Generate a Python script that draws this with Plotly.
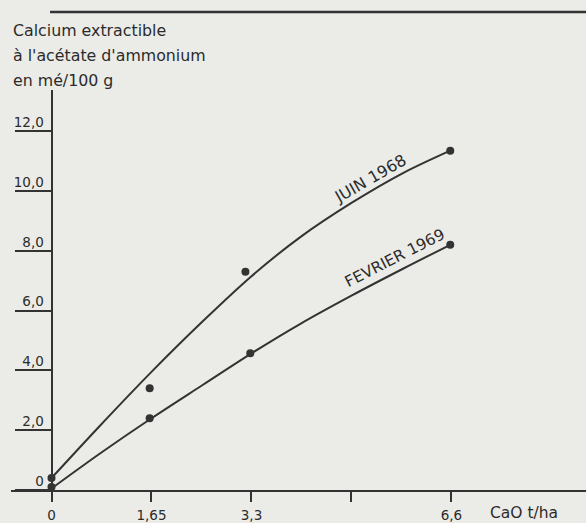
import plotly.graph_objects as go

# --- data ---
juin_pts_x = [0, 1.62, 3.2, 6.58]
juin_pts_y = [0.4, 3.4, 7.3, 11.35]
fev_pts_x = [0, 1.62, 3.28, 6.58]
fev_pts_y = [0.1, 2.4, 4.57, 8.2]

curve_x = [0, 0.8, 1.65, 2.5, 3.3, 4.1, 4.95, 5.8, 6.58]
juin_curve = [0.4, 2.15, 3.95, 5.65, 7.15, 8.45, 9.6, 10.6, 11.35]
fev_curve = [0.05, 1.22, 2.4, 3.52, 4.57, 5.55, 6.5, 7.4, 8.2]

x_tickvals = [0, 1.65, 3.3, 4.95, 6.6]
x_ticktext = ["0", "1,65", "3,3", "", "6,6"]
y_tickvals = [0, 2, 4, 6, 8, 10, 12]
y_ticktext = ["0", "2,0", "4,0", "6,0", "8,0", "10,0", "12,0"]

title_lines = ["Calcium extractible", "à l'acétate d'ammonium", "en mé/100 g"]

INK = "#333333"
BG = "#ebebe8"
FONT = "DejaVu Sans"
TXT = "#2b2b2b"

fig = go.Figure()
for cy in (juin_curve, fev_curve):
    fig.add_trace(go.Scatter(x=curve_x, y=cy, mode="lines",
                             line=dict(color=INK, width=2, shape="spline", smoothing=0.9),
                             cliponaxis=False, hoverinfo="skip"))
for px, py in ((juin_pts_x, juin_pts_y), (fev_pts_x, fev_pts_y)):
    fig.add_trace(go.Scatter(x=px, y=py, mode="markers",
                             marker=dict(color=INK, size=8), cliponaxis=False))

W, H = 586, 523
ml, mr, mt, mb = 11, 0, 90, 33
plot_w = W - ml - mr
plot_h = H - mt - mb
x0_px = 51.5
x_per = 60.6
y_per = 29.9
x_range = [-(x0_px - ml) / x_per, (W - x0_px) / x_per]
y_range = [0, plot_h / y_per]

fig.update_layout(
    width=W, height=H,
    margin=dict(l=ml, r=mr, t=mt, b=mb),
    paper_bgcolor=BG, plot_bgcolor=BG,
    showlegend=False,
    font=dict(family=FONT, color=TXT),
    xaxis=dict(range=x_range, showgrid=False, zeroline=False,
               showline=True, linecolor=INK, linewidth=2,
               tickvals=x_tickvals, ticktext=x_ticktext,
               ticks="outside", ticklen=10, tickwidth=2, tickcolor=INK,
               tickfont=dict(size=13.5, family=FONT, color=TXT),
               ticklabelstandoff=2),
    yaxis=dict(range=y_range, showgrid=False, zeroline=False,
               anchor="free", position=(x0_px - ml) / plot_w,
               showline=True, linecolor=INK, linewidth=2,
               tickvals=y_tickvals, ticktext=y_ticktext,
               ticks="outside", ticklen=36, tickwidth=1.5, tickcolor=INK,
               tickfont=dict(size=13.5, family=FONT, color=TXT),
               ticklabelstandoff=-32, ticklabelshift=-9),
)

# top frame line
fig.add_shape(type="line", xref="paper", yref="paper",
              x0=(50 - ml) / plot_w, x1=1.0,
              y0=1 + (mt - 12) / plot_h, y1=1 + (mt - 12) / plot_h,
              line=dict(color=INK, width=2.5))

# axis title (three lines)
for i, t in enumerate(title_lines):
    ypx = 30 + 25 * i
    fig.add_annotation(text=t, xref="paper", yref="paper",
                       x=(11 - ml) / plot_w, y=1 + (mt - ypx) / plot_h,
                       xanchor="left", yanchor="middle", showarrow=False,
                       font=dict(size=15.8, family=FONT, color=TXT))

fig.add_annotation(text="CaO t/ha", xref="x", yref="paper",
                   x=7.8, y=-(513 - (H - mb)) / plot_h,
                   xanchor="center", yanchor="middle", showarrow=False,
                   font=dict(size=15.5, family=FONT, color=TXT))

fig.add_annotation(text="JUIN 1968", x=5.26, y=10.43, textangle=-30,
                   showarrow=False, font=dict(size=16, family=FONT, color=TXT))
fig.add_annotation(text="FEVRIER 1969", x=5.67, y=7.76, textangle=-27,
                   showarrow=False, font=dict(size=15.5, family=FONT, color=TXT))

fig.write_html("out.html",
               config={"displayModeBar": False},
               post_script="document.body.style.margin='0';document.body.style.padding='0';"
                           "document.body.style.background='" + BG + "';")
